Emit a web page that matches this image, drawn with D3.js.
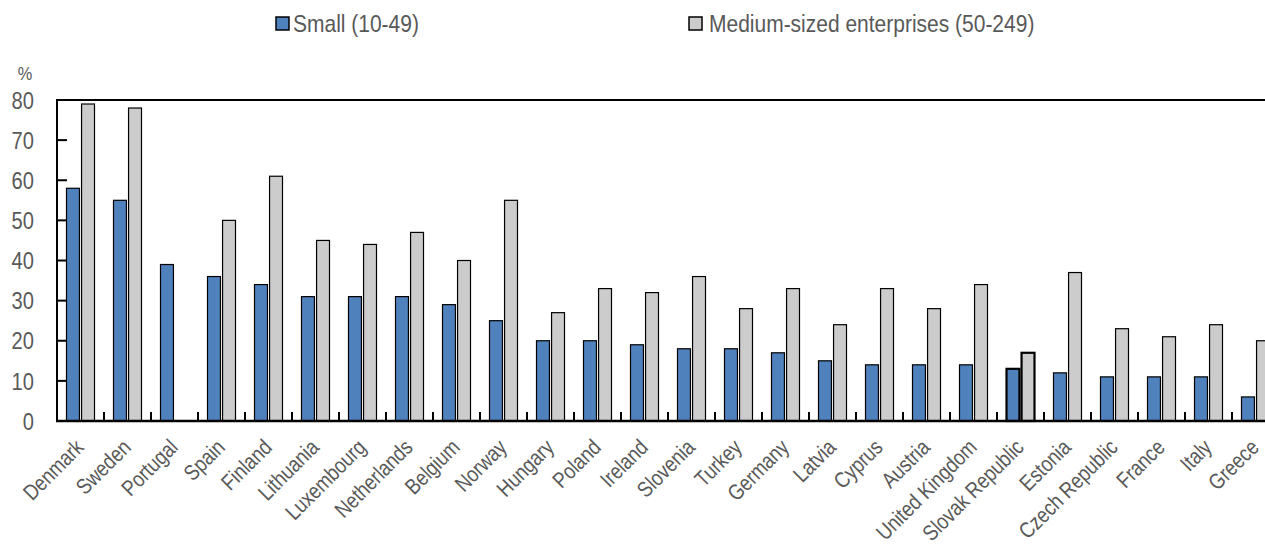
<!DOCTYPE html>
<html>
<head>
<meta charset="utf-8">
<script src="https://cdn.jsdelivr.net/npm/d3@7"></script>
<style>
  html, body { margin: 0; padding: 0; background: #fff; }
  svg { display: block; }
  text { font-family: "Liberation Sans", Arial, sans-serif; fill: #595959; }
</style>
</head>
<body>
<svg id="chart" width="1265" height="548"></svg>
<script>
const countries = ["Denmark","Sweden","Portugal","Spain","Finland","Lithuania","Luxembourg","Netherlands","Belgium","Norway","Hungary","Poland","Ireland","Slovenia","Turkey","Germany","Latvia","Cyprus","Austria","United Kingdom","Slovak Republic","Estonia","Czech Republic","France","Italy","Greece"];
const small  = [58,55,39,36,34,31,31,31,29,25,20,20,19,18,18,17,15,14,14,14,13,12,11,11,11,6];
const medium = [79,78,null,50,61,45,44,47,40,55,27,33,32,36,28,33,24,33,28,34,17,37,23,21,24,20];
const seriesNames = ["Small (10-49)", "Medium-sized enterprises (50-249)"];
const seriesKeys = ["small", "medium"];
const yTicks = [0,10,20,30,40,50,60,70,80];
const highlight = "Slovak Republic";

const colors = { small: "#4f81bd", medium: "#cccccc" };
const svg = d3.select("#chart");
const pLeft = 57, pRight = 1279, pTop = 100, pBottom = 421;

const x = d3.scaleBand().domain(countries).range([pLeft, pRight]).padding(0);
const y = d3.scaleLinear().domain([0, 80]).range([pBottom, pTop]);
const xs = d3.scaleBand().domain(seriesKeys).range([-14, 14]).paddingInner(0.14);

const data = countries.map((c, i) => ({ c, small: small[i], medium: medium[i] }));

// bars
const g = svg.append("g");
data.forEach(d => {
  seriesKeys.forEach(k => {
    if (d[k] == null) return;
    const cx = x(d.c) + x.bandwidth() / 2;
    g.append("rect")
      .attr("x", cx + xs(k))
      .attr("y", y(d[k]))
      .attr("width", xs.bandwidth())
      .attr("height", y(0) - y(d[k]))
      .attr("fill", colors[k])
      .attr("stroke", "#000")
      .attr("stroke-width", d.c === highlight ? 2.2 : 1.2);
  });
});

// axes frame
svg.append("line").attr("x1", pLeft).attr("x2", pRight).attr("y1", pTop).attr("y2", pTop)
  .attr("stroke", "#000").attr("stroke-width", 2);
svg.append("line").attr("x1", pLeft).attr("x2", pLeft).attr("y1", pTop - 1).attr("y2", pBottom + 1)
  .attr("stroke", "#000").attr("stroke-width", 2);
svg.append("line").attr("x1", pLeft - 1).attr("x2", pRight).attr("y1", pBottom).attr("y2", pBottom)
  .attr("stroke", "#000").attr("stroke-width", 2.5);

// y ticks (inward) and labels
yTicks.forEach(t => {
  if (t > 0 && t < 80) {
    svg.append("line").attr("x1", pLeft).attr("x2", pLeft + 10).attr("y1", y(t)).attr("y2", y(t))
      .attr("stroke", "#000").attr("stroke-width", 2);
  }
  svg.append("text").attr("transform", `translate(34,${y(t)}) scale(0.84,1)`).attr("dy", "0.36em")
    .attr("text-anchor", "end").attr("font-size", 24).text(t);
});
svg.append("text").attr("transform", `translate(25,80) scale(0.86,1)`).attr("text-anchor", "middle")
  .attr("font-size", 19).text("%");

// x category boundary ticks (inward, upwards)
countries.slice(1).forEach(c => {
  svg.append("line").attr("x1", x(c)).attr("x2", x(c)).attr("y1", pBottom).attr("y2", pBottom - 9)
    .attr("stroke", "#000").attr("stroke-width", 2);
});

// x labels
countries.forEach(c => {
  const cx = x(c) + x.bandwidth() / 2;
  svg.append("text")
    .attr("transform", `translate(${cx - 5},${pBottom + 18}) rotate(-45) scale(0.84,1)`)
    .attr("text-anchor", "end").attr("dy", "0.62em")
    .attr("font-size", 22).text(c);
});

// legend
const legendPos = [{ sx: 276, tx: 293 }, { sx: 689, tx: 709 }];
seriesKeys.forEach((k, i) => {
  svg.append("rect").attr("x", legendPos[i].sx).attr("y", 17).attr("width", 13).attr("height", 13)
    .attr("fill", colors[k]).attr("stroke", "#000").attr("stroke-width", 1.5);
  svg.append("text").attr("transform", `translate(${legendPos[i].tx},32) scale(0.875,1)`)
    .attr("font-size", 24).text(seriesNames[i]);
});
</script>
</body>
</html>
